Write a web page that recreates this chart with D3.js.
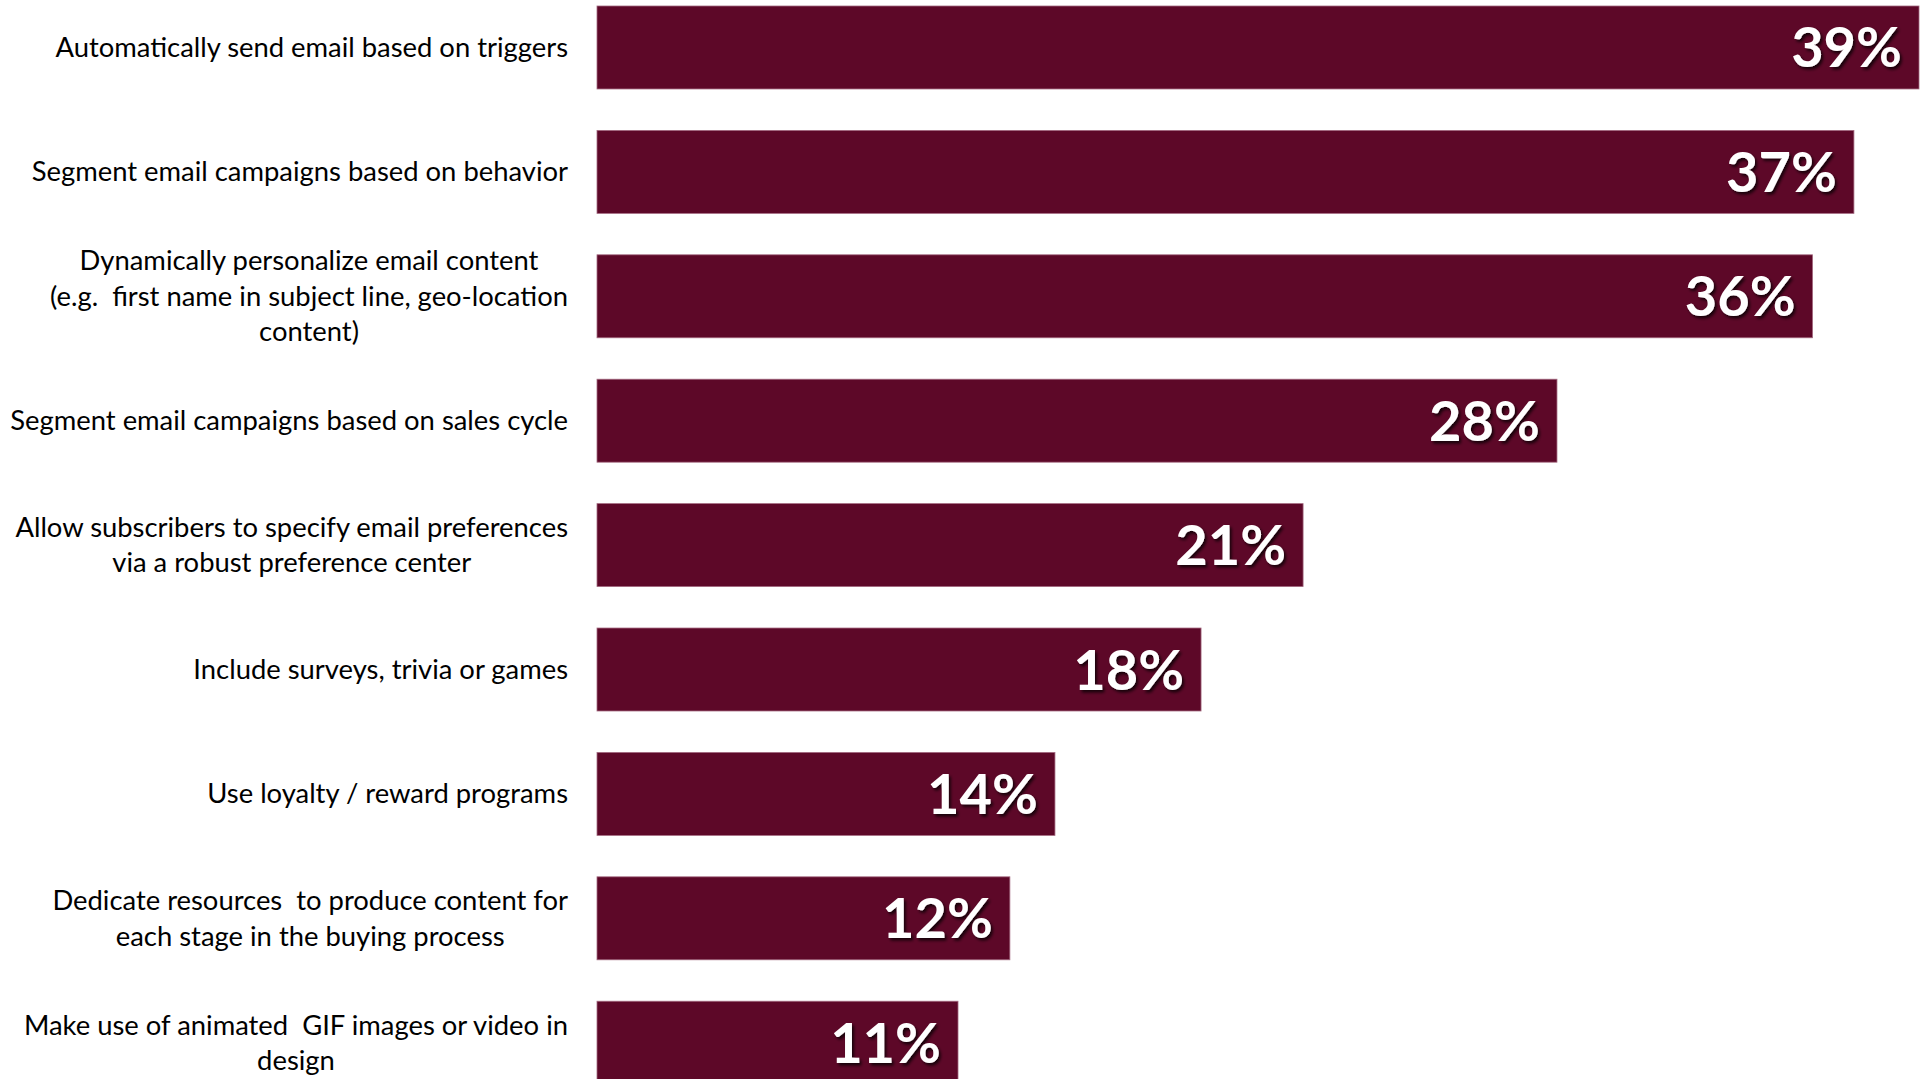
<!DOCTYPE html>
<html>
<head>
<meta charset="utf-8">
<script src="https://cdn.jsdelivr.net/npm/d3@7"></script>
<style>
  html, body { margin: 0; padding: 0; background: #ffffff; }
  svg { display: block; }
</style>
</head>
<body>
<svg id="chart" width="1925" height="1079"></svg>
<script>
// ---- data ----
const categories = [
  ["Automatically send email based on triggers"],
  ["Segment email campaigns based on behavior"],
  ["Dynamically personalize email content", "(e.g.  first name in subject line, geo-location", "content)"],
  ["Segment email campaigns based on sales cycle"],
  ["Allow subscribers to specify email preferences", "via a robust preference center"],
  ["Include surveys, trivia or games"],
  ["Use loyalty / reward programs"],
  ["Dedicate resources  to produce content for", "each stage in the buying process"],
  ["Make use of animated  GIF images or video in", "design"]
];
const values = [39.0, 37.08, 35.86, 28.32, 20.83, 17.82, 13.51, 12.18, 10.65];
const valueLabels = ["39%", "37%", "36%", "28%", "21%", "18%", "14%", "12%", "11%"];

// ---- layout ----
const W = 1925, H = 1079;
const barLeft = 597, barRightMax = 1919;
const labelRight = 568;
const lineH = 35.6;
const barColor = "#5d0828";

const svg = d3.select("#chart");

const defs = svg.append("defs");
const f = defs.append("filter").attr("id", "shadow")
  .attr("x", "-20%").attr("y", "-20%").attr("width", "140%").attr("height", "140%");
f.append("feDropShadow").attr("dx", 2).attr("dy", 2.5).attr("stdDeviation", 1.6)
  .attr("flood-color", "#000").attr("flood-opacity", 0.75);

const keys = categories.map((c, i) => i);
const y = d3.scaleBand().domain(keys).range([6, 6 + 8 * 124.4 + 83]).paddingInner(0.333).paddingOuter(0);
const x = d3.scaleLinear().domain([0, d3.max(values)]).range([barLeft, barRightMax]);

// bars
svg.append("g").selectAll("rect").data(values).join("rect")
  .attr("x", x(0))
  .attr("y", (d, i) => y(i))
  .attr("width", d => x(d) - x(0))
  .attr("height", y.bandwidth())
  .attr("fill", barColor)
  .attr("stroke", "#a46a80")
  .attr("stroke-width", 0.8);

// value labels
svg.append("g").selectAll("text").data(values).join("text")
  .attr("x", d => x(d) - 17)
  .attr("y", (d, i) => y(i) + y.bandwidth() / 2 + 20)
  .attr("text-anchor", "end")
  .attr("font-family", "Lato, 'Open Sans', sans-serif")
  .attr("font-weight", 700)
  .attr("font-size", 56)
  .attr("fill", "#ffffff")
  .attr("filter", "url(#shadow)")
  .text((d, i) => valueLabels[i]);

// category labels
const lg = svg.append("g");
categories.forEach((lines, i) => {
  const t = lg.append("text")
    .attr("font-family", "Lato, 'Open Sans', sans-serif")
    .attr("font-size", 27.4)
    .attr("fill", "#000000")
    .attr("text-anchor", "middle")
    .style("white-space", "pre");
  const cy = y(i) + y.bandwidth() / 2;
  const n = lines.length;
  const spans = lines.map((ln, j) => t.append("tspan")
    .attr("y", cy + (j - (n - 1) / 2) * lineH)
    .attr("dy", "0.35em")
    .text(ln));
  const maxW = d3.max(spans, s => s.node().getComputedTextLength());
  spans.forEach(s => s.attr("x", labelRight - maxW / 2));
});
</script>
</body>
</html>
